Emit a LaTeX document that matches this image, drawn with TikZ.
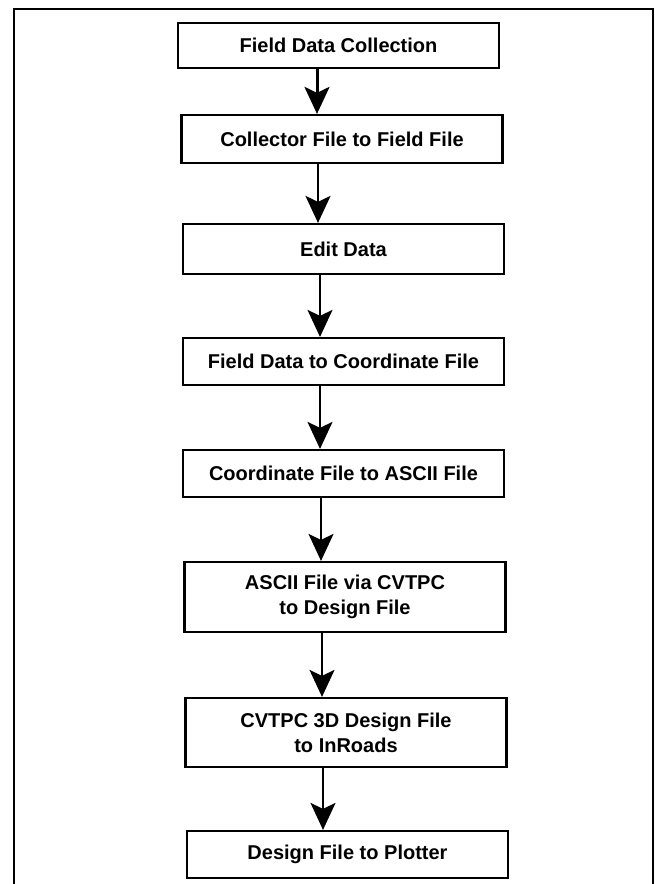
\documentclass[tikz,border=0pt]{standalone}
\usepackage{fontspec}
\setmainfont{Liberation Sans}
\usetikzlibrary{arrows.meta}
\begin{document}
\begin{tikzpicture}[x=1pt,y=-1pt,
  stepbox/.style={draw, line width=2.2pt, minimum width=321pt, minimum height=#1, inner sep=0pt, align=center,
    font=\fontsize{20}{25}\selectfont\bfseries},
  stepbox/.default=47pt,
  arr/.style={line width=2pt, -{Stealth[length=27pt,width=25pt,inset=6pt]}},
  frame/.style={line width=2.5pt, line join=miter}]
\useasboundingbox (0,0) rectangle (655,884);
\draw[frame] (14,890) -- (14,9) -- (653,9) -- (653,890);
\node[stepbox=45pt] (b1) at (338.5,45.5) {Field Data Collection};
\node[stepbox=48pt] (b2) at (342,139) {Collector File to Field File};
\node[stepbox=50pt] (b3) at (343.5,249) {Edit Data};
\node[stepbox=47pt] (b4) at (343.5,361.5) {Field Data to Coordinate File};
\node[stepbox=47pt] (b5) at (343.5,473.5) {Coordinate File to ASCII File};
\node[stepbox=70pt] (b6) at (345,597) {ASCII File via CVTPC\\to Design File};
\node[stepbox=69pt] (b7) at (346,732.5) {CVTPC 3D Design File\\to InRoads};
\node[stepbox=47pt] (b8) at (347.5,854.5) {Design File to Plotter};
\draw[arr, line width=3pt] ([xshift=-21.5pt]b1.south) -- ([xshift=-21.5pt]b1.south |- b2.north);
\draw[arr, line width=2.6pt] ([xshift=-24pt]b2.south) -- ([xshift=-24pt]b2.south |- b3.north);
\draw[arr] ([xshift=-23.5pt]b3.south) -- ([xshift=-23.5pt]b3.south |- b4.north);
\draw[arr] ([xshift=-23.5pt]b4.south) -- ([xshift=-23.5pt]b4.south |- b5.north);
\draw[arr] ([xshift=-22.5pt]b5.south) -- ([xshift=-22.5pt]b5.south |- b6.north);
\draw[arr] ([xshift=-23pt]b6.south) -- ([xshift=-23pt]b6.south |- b7.north);
\draw[arr] ([xshift=-23pt]b7.south) -- ([xshift=-23pt]b7.south |- b8.north);
\end{tikzpicture}
\end{document}
